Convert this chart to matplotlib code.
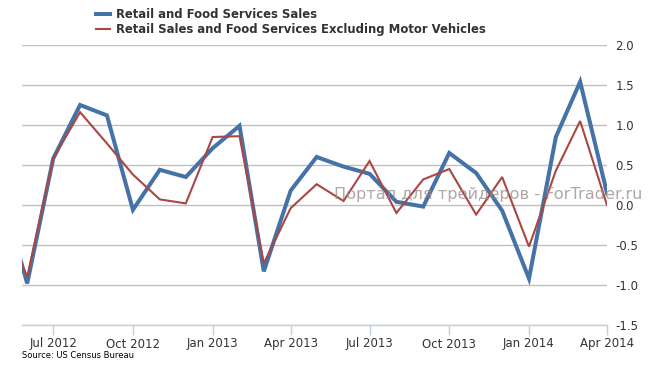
import matplotlib
matplotlib.use('Agg')
import matplotlib.pyplot as plt
import matplotlib.dates as mdates
import datetime

# monthly % change, May 2012 .. Apr 2014
months = ["2012-05", "2012-06", "2012-07", "2012-08", "2012-09", "2012-10",
          "2012-11", "2012-12", "2013-01", "2013-02", "2013-03", "2013-04",
          "2013-05", "2013-06", "2013-07", "2013-08", "2013-09", "2013-10",
          "2013-11", "2013-12", "2014-01", "2014-02", "2014-03", "2014-04"]
retail_food = [0.20, -0.98, 0.58, 1.25, 1.12, -0.06, 0.44, 0.35, 0.71, 0.99,
               -0.83, 0.18, 0.60, 0.48, 0.39, 0.04, -0.02, 0.65, 0.40, -0.07,
               -0.92, 0.85, 1.54, 0.15]
retail_ex_auto = [-0.10, -0.90, 0.58, 1.16, 0.77, 0.38, 0.07, 0.02, 0.85, 0.86,
                  -0.73, -0.04, 0.26, 0.05, 0.55, -0.10, 0.32, 0.45, -0.12, 0.35,
                  -0.52, 0.43, 1.05, 0.00]
series_names = ["Retail and Food Services Sales",
                "Retail Sales and Food Services Excluding Motor Vehicles"]

dates = [datetime.datetime.strptime(m, "%Y-%m") for m in months]

fig = plt.figure(figsize=(6.48, 3.68), dpi=100)
ax = fig.add_axes([22/648, 1-325/368, (607-22)/648, (325-45)/368])

l1, = ax.plot(dates, retail_food, color='#4572a7', lw=2.9, zorder=3,
              solid_joinstyle='miter')
l2, = ax.plot(dates, retail_ex_auto, color='#aa4643', lw=1.5, zorder=4,
              solid_joinstyle='miter')

ax.set_ylim(-1.5, 2.0)
ax.set_yticks([-1.5, -1.0, -0.5, 0.0, 0.5, 1.0, 1.5, 2.0])
ax.yaxis.set_major_formatter(matplotlib.ticker.FormatStrFormatter('%.1f'))
ax.yaxis.tick_right()
ax.tick_params(axis='y', length=0, pad=6, labelsize=8.5, labelcolor='#333333')
ax.grid(axis='y', color='#c0c0c0', lw=1)
ax.set_axisbelow(True)

ax.set_xlim(datetime.datetime(2012, 5, 26), datetime.datetime(2014, 4, 1))
ax.xaxis.set_major_locator(mdates.MonthLocator(bymonth=[1, 4, 7, 10]))
ax.xaxis.set_major_formatter(mdates.DateFormatter('%b %Y'))
ax.tick_params(axis='x', length=7, width=1, color='#c0d0e0', labelsize=8.5,
               labelcolor='#333333', pad=2)

for s in ['top', 'left', 'right']:
    ax.spines[s].set_visible(False)
ax.spines['bottom'].set_color('#c0d0e0')
ax.spines['bottom'].set_linewidth(1)

fig.legend([l1, l2], series_names, loc='upper left',
           bbox_to_anchor=(88/648, 1-0/368), frameon=False,
           prop={'weight': 'bold', 'size': 8.4}, handlelength=1.2,
           handletextpad=0.5, labelspacing=0.15, borderpad=0.2,
           labelcolor='#333333')

fig.text(488/648, 1-194/368, "Портал для трейдеров - ForTrader.ru",
         ha='center', va='center', fontsize=11.6, color='#9a8888',
         alpha=0.75, zorder=10)

fig.text(22/648, 1-356/368, "Source: US Census Bureau", fontsize=6,
         color='black', va='center')

fig.savefig('out.png', dpi=100)
